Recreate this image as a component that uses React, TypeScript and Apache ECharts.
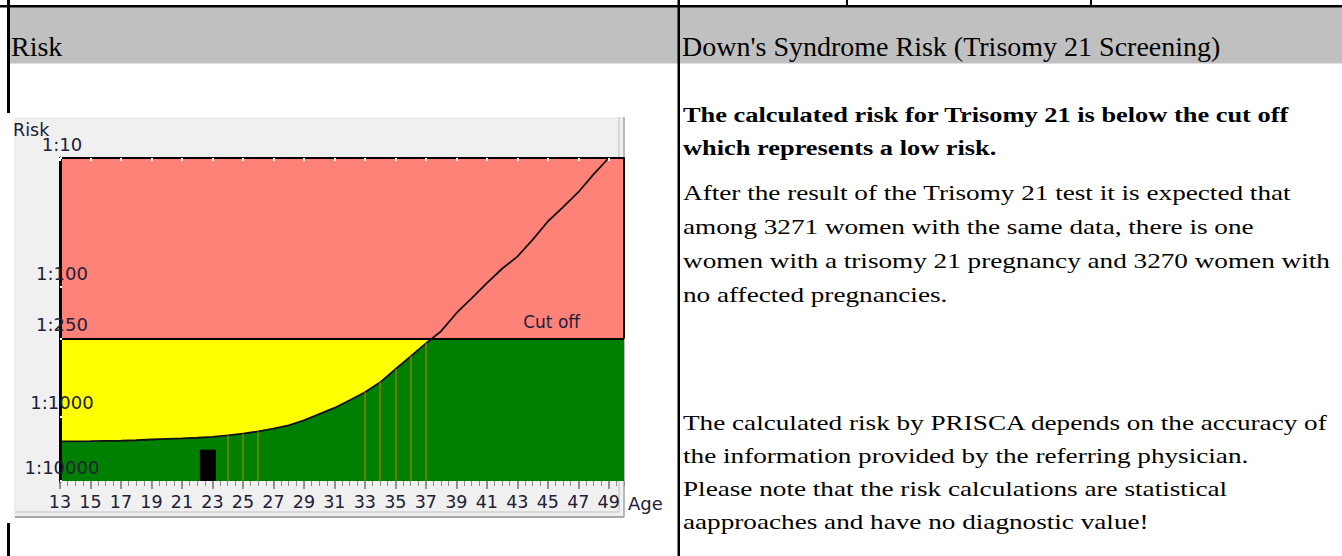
import React, { useEffect, useRef } from "react";
import * as echarts from "echarts";

// ---------- data ----------
const curveAges = [13, 14, 15, 16, 17, 18, 19, 20, 21, 22, 23, 24, 25, 26, 27, 28, 29, 30, 31, 32, 33, 34, 35, 36, 37, 38, 39, 40, 41, 42, 43, 44, 45, 46, 47, 48, 49, 50];
// age related risk, as 1:N
const curveRisk = [2440, 2430, 2420, 2400, 2380, 2340, 2280, 2230, 2190, 2140, 2080, 1970, 1850, 1710, 1540, 1380, 1150, 960, 860, 750, 650, 545, 432, 343, 272, 219, 159, 122, 93, 72, 58, 43, 31, 24, 18.4, 13.4, 10, 7.5];
const cutoffRisk = 250;
const patientAge = 22.7;
const patientRisk = 3271;
const markerAges = [24, 25, 26, 33, 34, 35, 36, 37];
const xTickAges = [13, 15, 17, 19, 21, 23, 25, 27, 29, 31, 33, 35, 37, 39, 41, 43, 45, 47, 49];
const yTickRisks = [10, 100, 250, 1000, 10000];
const yTickLabels = ["1:10", "1:100", "1:250", "1:1000", "1:10000"];

const headerLeft = "Risk";
const headerRight = "Down's Syndrome Risk (Trisomy 21 Screening)";
const summaryLines = [
  "The calculated risk for Trisomy 21 is below the cut off",
  "which represents a low risk.",
];
const resultLines = [
  "After the result of the Trisomy 21 test it is expected that",
  "among 3271 women with the same data, there is one",
  "women with a trisomy 21 pregnancy and 3270 women with",
  "no affected pregnancies.",
];
const disclaimerLines = [
  "The calculated risk by PRISCA depends on the accuracy of",
  "the information provided by the referring physician.",
  "Please note that the risk calculations are statistical",
  "aapproaches and have no diagnostic value!",
];

// risk -> axis position (upper decades logarithmic, last decade compressed)
function toT(risk: number): number {
  const l = Math.log10(risk);
  return l <= 3 ? l : 3 + (l - 3) * 0.5;
}

const X_MIN = 13;
const X_MAX = 50;
const Y_MIN = toT(yTickRisks[0]);
const Y_MAX = toT(yTickRisks[yTickRisks.length - 1]);
const T_CUT = toT(cutoffRisk);
const yTickT = yTickRisks.map(toT);

const LABEL_COLOR = "#202038";
const SANS = "DejaVu Sans";
const SERIF = "Liberation Serif";

function textLines(lines: string[], x: number, baseline0: number, step: number, size: number, weight: string, sx: number) {
  return lines.map((t, i) => ({
    type: "text",
    x,
    y: baseline0 + i * step - size * 0.3375,
    scaleX: sx,
    z: 20,
    style: {
      text: t,
      fill: "#000",
      fontSize: size,
      fontFamily: SERIF,
      fontWeight: weight,
      align: "left",
      verticalAlign: "middle",
    },
  }));
}

export default function App() {
  const ref = useRef<HTMLDivElement>(null);

  useEffect(() => {
    document.body.style.margin = "0";
    if (!ref.current) return;
    const chart = echarts.init(ref.current, undefined, { renderer: "svg" });

    const curveData = curveAges.map((a, i) => [a, toT(curveRisk[i])]);

    const oliveLines = markerAges.map((a) => {
      const i = curveAges.indexOf(a);
      return [
        { coord: [a, toT(curveRisk[i])], lineStyle: { color: "#808000", width: 1.5, type: "solid" } },
        { coord: [a, Y_MAX] },
      ];
    });
    const borderLines = [
      [{ coord: [X_MIN, T_CUT], lineStyle: { color: "#000", width: 2, type: "solid" } }, { coord: [X_MAX, T_CUT] }],
      [{ coord: [X_MAX, Y_MIN], lineStyle: { color: "#000", width: 2, type: "solid" } }, { coord: [X_MAX, T_CUT] }],
    ];

    const graphics: any[] = [
      // document table
      { type: "rect", z: -10, shape: { x: 10, y: 7, width: 1332, height: 56.5 }, style: { fill: "#c0c0c0" } },
      { type: "rect", z: 15, shape: { x: 0, y: 5, width: 1342, height: 2.5 }, style: { fill: "#000" } },
      { type: "rect", z: 15, shape: { x: 7, y: 0, width: 3, height: 113 }, style: { fill: "#000" } },
      { type: "rect", z: 15, shape: { x: 7, y: 523, width: 3, height: 33 }, style: { fill: "#000" } },
      { type: "rect", z: 15, shape: { x: 677.5, y: 0, width: 2.5, height: 556 }, style: { fill: "#000" } },
      { type: "rect", z: 15, shape: { x: 846, y: 0, width: 2, height: 6 }, style: { fill: "#000" } },
      { type: "rect", z: 15, shape: { x: 1090, y: 0, width: 2, height: 6 }, style: { fill: "#000" } },
      {
        type: "text", x: 11, y: 46, z: 20,
        style: { text: headerLeft, fill: "#000", fontSize: 28, fontFamily: SERIF, align: "left", verticalAlign: "middle" },
      },
      {
        type: "text", x: 682, y: 46, z: 20,
        style: { text: headerRight, fill: "#000", fontSize: 28, fontFamily: SERIF, align: "left", verticalAlign: "middle" },
      },
      ...textLines(summaryLines, 683, 122, 33, 22, "bold", 1.2),
      ...textLines(resultLines, 683, 200, 34, 22, "normal", 1.236),
      ...textLines(disclaimerLines, 683, 430, 33, 22, "normal", 1.236),
      // chart panel
      { type: "rect", z: -5, shape: { x: 15, y: 118, width: 609, height: 399 }, style: { fill: "#f0f0f0", stroke: "#e4e4e4", lineWidth: 1 } },
      { type: "line", z: -4, shape: { x1: 619, y1: 117, x2: 619, y2: 512 }, style: { stroke: "#cfcfcf", lineWidth: 1.5 } },
      { type: "line", z: -4, shape: { x1: 624, y1: 117, x2: 624, y2: 517 }, style: { stroke: "#a8a8a8", lineWidth: 1.5 } },
      { type: "line", z: -4, shape: { x1: 15, y1: 512, x2: 619, y2: 512 }, style: { stroke: "#cfcfcf", lineWidth: 1.5 } },
      { type: "line", z: -4, shape: { x1: 15, y1: 517, x2: 624, y2: 517 }, style: { stroke: "#a8a8a8", lineWidth: 2 } },
      {
        type: "text", x: 13, y: 130, z: 20,
        style: { text: "Risk", fill: LABEL_COLOR, fontSize: 17.5, fontFamily: SANS, align: "left", verticalAlign: "middle" },
      },
      {
        type: "text", x: 580, y: 322, z: 20,
        style: { text: "Cut off", fill: LABEL_COLOR, fontSize: 17, fontFamily: SANS, align: "right", verticalAlign: "middle" },
      },
      {
        type: "text", x: 628, y: 503, z: 20,
        style: { text: "Age", fill: LABEL_COLOR, fontSize: 18, fontFamily: SANS, align: "left", verticalAlign: "middle" },
      },
    ];

    chart.setOption({
      animation: false,
      backgroundColor: "#ffffff",
      grid: {
        left: 60,
        right: 718,
        top: 158,
        bottom: 75,
        show: true,
        backgroundColor: "#ffff00",
        borderWidth: 0,
        containLabel: false,
        outerBoundsMode: "none",
      },
      xAxis: [
        {
          type: "value",
          position: "bottom",
          min: X_MIN,
          max: X_MAX,
          axisLine: { show: false, onZero: false },
          axisTick: { show: true, customValues: xTickAges, length: 8, lineStyle: { color: "#777", width: 1.5 } },
          axisLabel: {
            show: true,
            customValues: xTickAges,
            margin: 12,
            fontSize: 17.5,
            fontFamily: SANS,
            color: LABEL_COLOR,
          },
          splitLine: { show: false },
        },
        {
          type: "value",
          position: "bottom",
          min: X_MIN,
          max: X_MAX,
          interval: 0.5,
          axisLine: { show: false, onZero: false },
          axisTick: { show: true, length: 5, lineStyle: { color: "#8a8a8a", width: 1 } },
          axisLabel: { show: false },
          splitLine: { show: false },
        },
        {
          type: "value",
          position: "top",
          min: X_MIN,
          max: X_MAX,
          z: 10,
          axisLine: { show: true, onZero: false, lineStyle: { color: "#000", width: 2 } },
          axisTick: { show: true, customValues: xTickAges, inside: true, length: 3, lineStyle: { color: "#fff", width: 2 } },
          axisLabel: { show: false },
          splitLine: { show: false },
        },
      ],
      yAxis: {
        type: "value",
        min: Y_MIN,
        max: Y_MAX,
        inverse: true,
        z: 10,
        axisLine: { show: true, onZero: false, lineStyle: { color: "#000", width: 3 } },
        axisTick: { show: true, customValues: yTickT, inside: true, length: 2, lineStyle: { color: "#fff", width: 2 } },
        axisLabel: {
          show: true,
          customValues: yTickT,
          formatter: (v: number) => {
            const i = yTickT.findIndex((t) => Math.abs(t - v) < 1e-6);
            return i >= 0 ? yTickLabels[i] : "";
          },
          align: "center",
          verticalAlign: "bottom",
          lineHeight: 28,
          margin: -2,
          fontSize: 18,
          fontFamily: SANS,
          color: LABEL_COLOR,
        },
        splitLine: { show: false },
      },
      graphic: { elements: graphics },
      series: [
        {
          name: "low risk area",
          type: "line",
          z: 2,
          silent: true,
          data: curveData,
          symbol: "none",
          showSymbol: false,
          lineStyle: { width: 0, opacity: 0 },
          areaStyle: { color: "#008000", opacity: 1, origin: "end" },
        },
        {
          name: "age risk",
          type: "line",
          z: 4,
          silent: true,
          data: curveData,
          symbol: "none",
          showSymbol: false,
          lineStyle: { color: "#111", width: 1.8 },
          markArea: {
            z: 3,
            silent: true,
            label: { show: false },
            itemStyle: { color: "#ff8279", opacity: 1 },
            data: [[{ yAxis: Y_MIN }, { yAxis: T_CUT }]],
          },
          markLine: {
            z: 5,
            silent: true,
            symbol: ["none", "none"],
            label: { show: false },
            data: [...oliveLines, ...borderLines],
          },
        },
        {
          name: "patient",
          type: "custom",
          z: 6,
          silent: true,
          data: [[patientAge, toT(patientRisk)]],
          renderItem: (_params: any, api: any) => {
            const top = api.coord([api.value(0), api.value(1)]);
            const bottom = api.coord([api.value(0), Y_MAX]);
            const w = 16;
            return {
              type: "rect",
              shape: { x: top[0] - w / 2, y: top[1], width: w, height: bottom[1] - top[1] },
              style: { fill: "#000" },
            };
          },
        },
      ],
    });

    return () => chart.dispose();
  }, []);

  return (
    <div
      ref={ref}
      style={{ position: "fixed", left: 0, top: 0, width: 1342, height: 556, background: "#fff" }}
    />
  );
}
